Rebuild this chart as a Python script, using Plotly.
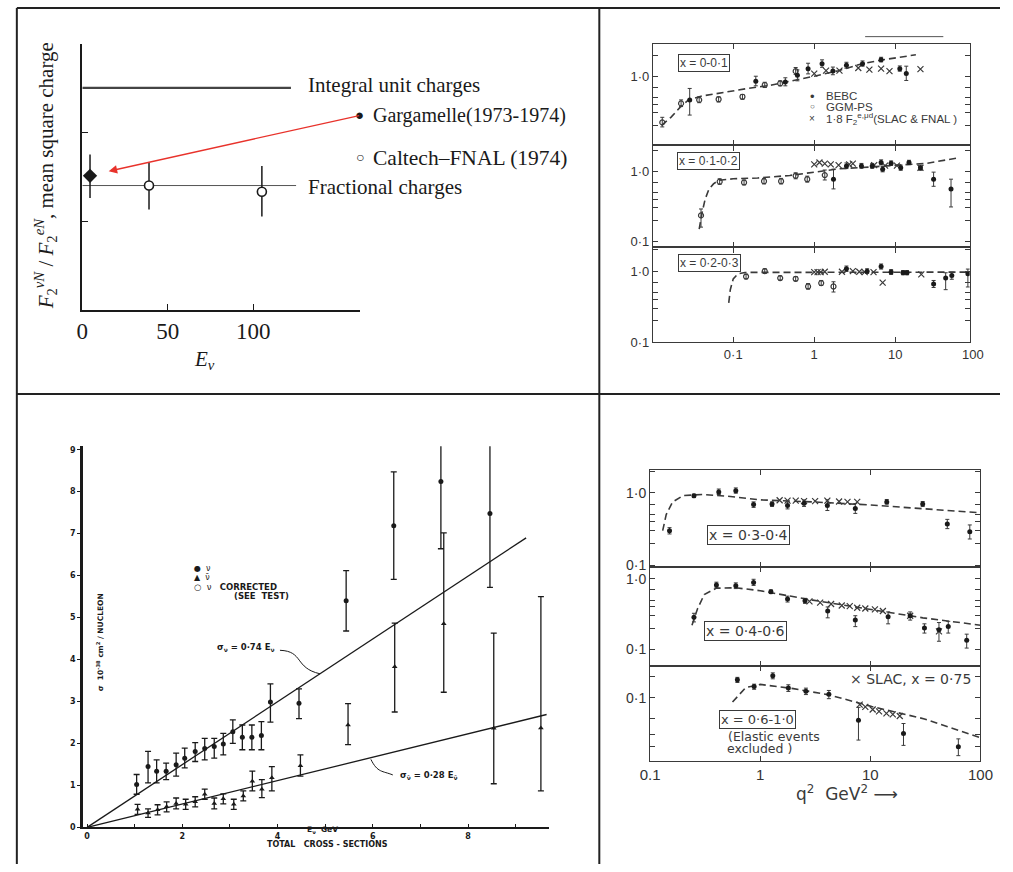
import plotly.graph_objects as go

W, H = 1013, 872
def px(x): return x / W
def py(y): return 1 - y / H

INK = "#1a1a1a"
SCAN = "#3a3a3a"
SERIF = "Liberation Serif"
SANS = "Liberation Sans"
WIDE = "DejaVu Sans"

# ================= Panel A (top-left): F2 ratio vs E_nu =================
A_garg_E = [4.5]
A_garg_R = [1.51]
A_garg_up = [0.24]
A_garg_dn = [0.25]
A_cal_E = [39, 105]
A_cal_R = [1.40, 1.33]
A_cal_up = [0.26, 0.29]
A_cal_dn = [0.27, 0.28]
A_integral_E = [0, 122]
A_integral_R = [2.5, 2.5]
A_fraction_E = [0, 125]
A_fraction_R = [1.40, 1.40]
A_xticks = [0, 50, 100]
A_yticks = [1, 2, 3]

# ================= Panel B (top-right): F2 vs q2, x bins =================
B1_bebc_x = [0.029, 0.19, 0.44, 0.62, 0.84, 1.25, 1.7, 2.5, 3.95, 6.7, 11.4, 13.7]
B1_bebc_y = [0.46, 0.85, 0.83, 1.03, 1.28, 1.51, 1.19, 1.43, 1.51, 1.72, 1.28, 1.09]
B1_bebc_up = [0.21, 0.15, 0.12, 0.20, 0.25, 0.20, 0.16, 0.15, 0.14, 0.14, 0.12, 0.30]
B1_bebc_dn = [0.18, 0.12, 0.10, 0.17, 0.20, 0.17, 0.14, 0.13, 0.12, 0.12, 0.10, 0.22]
B1_ggm_x = [0.0133, 0.0227, 0.038, 0.066, 0.13, 0.245, 0.38, 0.59]
B1_ggm_y = [0.22, 0.41, 0.46, 0.47, 0.51, 0.75, 0.79, 1.18]
B1_ggm_up = [0.04, 0.05, 0.05, 0.04, 0.04, 0.07, 0.07, 0.15]
B1_ggm_dn = [0.03, 0.04, 0.04, 0.04, 0.04, 0.06, 0.06, 0.12]
B1_slac_x = [1.0, 1.4, 2.05, 3.5, 4.8, 6.7, 8.5, 20.5]
B1_slac_y = [1.09, 1.2, 1.2, 1.31, 1.24, 1.28, 1.18, 1.26]
B1_fit_x = [0.013, 0.017, 0.022, 0.028, 0.04, 0.07, 0.14, 0.3, 0.6, 1.0, 2.0, 4.0, 8.0, 18.0]
B1_fit_y = [0.2, 0.26, 0.36, 0.46, 0.52, 0.58, 0.66, 0.75, 0.88, 1.0, 1.2, 1.52, 1.75, 2.02]

B2_bebc_x = [1.73, 2.5, 3.83, 5.2, 6.7, 7.0, 8.9, 11.7, 14.8, 20.5, 29.8, 48.9]
B2_bebc_y = [0.77, 1.19, 1.19, 1.19, 1.33, 1.07, 1.30, 1.12, 1.33, 1.12, 0.77, 0.56]
B2_bebc_up = [0.30, 0.12, 0.10, 0.10, 0.12, 0.10, 0.10, 0.10, 0.10, 0.10, 0.20, 0.21]
B2_bebc_dn = [0.21, 0.10, 0.09, 0.09, 0.10, 0.09, 0.09, 0.09, 0.09, 0.09, 0.16, 0.25]
B2_ggm_x = [0.04, 0.068, 0.136, 0.24, 0.39, 0.59, 0.82, 1.35]
B2_ggm_y = [0.235, 0.71, 0.69, 0.72, 0.72, 0.86, 0.77, 0.88]
B2_ggm_up = [0.055, 0.07, 0.06, 0.07, 0.07, 0.09, 0.08, 0.16]
B2_ggm_dn = [0.075, 0.06, 0.05, 0.06, 0.06, 0.08, 0.07, 0.13]
B2_slac_x = [1.0, 1.16, 1.35, 1.6, 2.0, 2.7, 3.0, 5.5, 7.5, 10.5, 20.5]
B2_slac_y = [1.25, 1.33, 1.28, 1.25, 1.22, 1.25, 1.28, 1.22, 1.2, 1.2, 1.12]
B2_fit_x = [0.038, 0.041, 0.045, 0.05, 0.057, 0.066, 0.1, 0.2, 0.5, 1.0, 2.0, 5.0, 10.0, 25.0, 60.0]
B2_fit_y = [0.15, 0.25, 0.4, 0.55, 0.66, 0.74, 0.78, 0.8, 0.87, 0.98, 1.08, 1.15, 1.2, 1.3, 1.55]

B3_bebc_x = [2.5, 4.5, 6.7, 8.9, 12.5, 14.0, 29.8, 42.0, 50.0, 79.0]
B3_bebc_y = [1.08, 1.0, 1.16, 0.97, 0.95, 0.95, 0.66, 0.80, 0.87, 0.92]
B3_bebc_up = [0.10, 0.08, 0.10, 0.08, 0.07, 0.07, 0.08, 0.15, 0.10, 0.15]
B3_bebc_dn = [0.09, 0.07, 0.09, 0.07, 0.06, 0.06, 0.07, 0.25, 0.10, 0.32]
B3_ggm_x = [0.144, 0.245, 0.38, 0.59, 0.84, 1.22, 1.73]
B3_ggm_y = [0.84, 1.0, 0.80, 0.78, 0.61, 0.68, 0.61]
B3_ggm_up = [0.07, 0.08, 0.06, 0.06, 0.06, 0.06, 0.10]
B3_ggm_dn = [0.06, 0.07, 0.05, 0.05, 0.05, 0.05, 0.10]
B3_slac_x = [1.0, 1.1, 1.2, 1.35, 2.2, 3.0, 3.6, 4.2, 5.4, 7.0, 21.0]
B3_slac_y = [0.97, 0.97, 0.97, 0.98, 0.98, 1.0, 0.98, 0.97, 0.97, 0.69, 0.9]
B3_fit_x = [0.088, 0.092, 0.1, 0.115, 0.14, 1.0, 10.0, 80.0]
B3_fit_y = [0.36, 0.55, 0.78, 0.92, 0.96, 0.96, 0.96, 0.97]

B_xtick_vals = [0.1, 1, 10]
B_xtick_text = ["0·1", "1", "10"]

# ================= Panel C (bottom-left): total cross sections =================
C_nu_E = [1.04, 1.28, 1.46, 1.66, 1.87, 2.05, 2.27, 2.47, 2.67, 2.86, 3.06, 3.26,
          3.46, 3.66, 3.85, 4.45, 5.44, 6.44, 7.43, 8.46]
C_nu_S = [1.02, 1.45, 1.34, 1.34, 1.49, 1.65, 1.81, 1.88, 1.93, 1.99, 2.28, 2.15,
          2.15, 2.19, 2.99, 2.96, 5.40, 7.19, 8.24, 7.48]
C_nu_up = [0.24, 0.36, 0.27, 0.19, 0.28, 0.24, 0.21, 0.24, 0.19, 0.25, 0.28, 0.29,
           0.29, 0.33, 0.43, 0.34, 0.72, 1.28, 1.51, 1.64]
C_nu_dn = [0.23, 0.39, 0.28, 0.20, 0.27, 0.23, 0.24, 0.27, 0.28, 0.26, 0.28, 0.30,
           0.30, 0.34, 0.48, 0.37, 0.72, 1.28, 1.60, 1.76]
C_nub_E = [1.06, 1.28, 1.48, 1.67, 1.87, 2.07, 2.27, 2.47, 2.67, 2.86, 3.08, 3.28,
           3.47, 3.67, 3.88, 4.48, 5.48, 6.46, 7.49, 8.54, 9.53]
C_nub_S = [0.43, 0.34, 0.42, 0.49, 0.57, 0.55, 0.61, 0.79, 0.57, 0.68, 0.55, 0.75,
           1.10, 0.91, 1.18, 1.47, 2.44, 3.83, 4.85, 2.36, 2.37]
C_nub_up = [0.12, 0.10, 0.12, 0.12, 0.13, 0.12, 0.12, 0.12, 0.13, 0.12, 0.12, 0.12,
            0.24, 0.23, 0.27, 0.26, 0.51, 1.04, 2.17, 2.27, 3.13]
C_nub_dn = [0.12, 0.10, 0.12, 0.12, 0.13, 0.12, 0.12, 0.12, 0.13, 0.12, 0.12, 0.12,
            0.23, 0.20, 0.31, 0.25, 0.47, 1.08, 1.63, 1.32, 1.50]
C_fitnu_E = [0, 9.22]
C_fitnu_S = [0, 6.90]
C_fitnub_E = [0, 9.65]
C_fitnub_S = [0, 2.69]
C_xtick_vals = [0, 1, 2, 3, 4, 5, 6, 7, 8, 9]
C_xtick_text = ["0", "", "2", "", "4", "", "6", "", "8", ""]
C_ytick_vals = [0, 1, 2, 3, 4, 5, 6, 7, 8, 9]

# ================= Panel D (bottom-right): F2 vs q2, high x =================
D1_bebc_x = [0.15, 0.25, 0.42, 0.6, 0.87, 1.28, 1.77, 2.5, 4.07, 7.3, 14.1, 29.9, 50, 80]
D1_bebc_y = [0.30, 0.91, 1.03, 1.07, 0.69, 0.70, 0.67, 0.72, 0.67, 0.61, 0.75, 0.70, 0.37, 0.29]
D1_bebc_up = [0.03, 0.05, 0.10, 0.10, 0.06, 0.05, 0.08, 0.08, 0.13, 0.10, 0.06, 0.06, 0.06, 0.07]
D1_bebc_dn = [0.03, 0.05, 0.08, 0.08, 0.06, 0.05, 0.07, 0.07, 0.10, 0.09, 0.05, 0.05, 0.05, 0.06]
D1_slac_x = [1.5, 1.77, 2.1, 2.5, 3.15, 4.07, 5.2, 6.2, 7.6]
D1_slac_y = [0.79, 0.78, 0.78, 0.77, 0.77, 0.78, 0.76, 0.75, 0.75]
D1_fit_x = [0.13, 0.14, 0.16, 0.2, 0.3, 0.5, 1.0, 3.0, 10.0, 30.0, 100.0]
D1_fit_y = [0.3, 0.5, 0.75, 0.92, 0.95, 0.9, 0.8, 0.75, 0.68, 0.6, 0.53]

D2_bebc_x = [0.25, 0.4, 0.6, 0.87, 1.25, 1.77, 2.55, 4.1, 7.3, 14.5, 23, 31, 42, 51, 75]
D2_bebc_y = [0.285, 0.82, 0.8, 0.89, 0.66, 0.52, 0.49, 0.35, 0.26, 0.29, 0.3, 0.2, 0.19, 0.21, 0.134]
D2_bebc_up = [0.04, 0.08, 0.08, 0.10, 0.04, 0.05, 0.04, 0.05, 0.04, 0.05, 0.04, 0.03, 0.05, 0.04, 0.03]
D2_bebc_dn = [0.04, 0.07, 0.07, 0.08, 0.04, 0.05, 0.04, 0.07, 0.05, 0.06, 0.04, 0.03, 0.06, 0.04, 0.03]
D2_slac_x = [2.8, 3.5, 4.4, 5.5, 6.5, 7.6, 9, 11, 13, 23, 42]
D2_slac_y = [0.48, 0.46, 0.44, 0.42, 0.41, 0.39, 0.38, 0.37, 0.35, 0.3, 0.18]
D2_fit_x = [0.24, 0.27, 0.31, 0.4, 0.6, 1.0, 3.0, 10.0, 30.0, 100.0]
D2_fit_y = [0.22, 0.38, 0.6, 0.74, 0.75, 0.68, 0.5, 0.37, 0.28, 0.22]

D3_bebc_x = [0.62, 0.88, 1.3, 1.8, 2.6, 4.2, 7.8, 20, 63]
D3_bebc_y = [0.18, 0.144, 0.206, 0.138, 0.124, 0.112, 0.048, 0.031, 0.020]
D3_bebc_up = [0.015, 0.012, 0.02, 0.015, 0.013, 0.015, 0.025, 0.012, 0.006]
D3_bebc_dn = [0.015, 0.012, 0.02, 0.015, 0.013, 0.015, 0.023, 0.010, 0.005]
D3_slac_x = [8, 9, 10.5, 12, 14, 16, 18.5]
D3_slac_y = [0.08, 0.074, 0.068, 0.064, 0.06, 0.058, 0.055]
D3_fit_x = [0.56, 0.74, 0.87, 1.0, 2.0, 4.2, 10.3, 31.0, 100.0]
D3_fit_y = [0.087, 0.14, 0.147, 0.155, 0.135, 0.11, 0.075, 0.05, 0.027]

D_xtick_vals = [0.1, 1, 10, 100]
D_xtick_text = ["0.1", "1", "10", "100"]

fig = go.Figure()

def err(up, dn, color, thick=1.0, width=2):
    return dict(type="data", array=up, arrayminus=dn, symmetric=False,
                color=color, thickness=thick, width=width)

# ---------- Panel A traces ----------
fig.add_trace(go.Scatter(x=A_integral_E, y=A_integral_R, mode="lines",
                         line=dict(color="#444", width=2.2), xaxis="x", yaxis="y"))
fig.add_trace(go.Scatter(x=A_fraction_E, y=A_fraction_R, mode="lines",
                         line=dict(color="#555", width=1), xaxis="x", yaxis="y"))
fig.add_trace(go.Scatter(x=A_cal_E, y=A_cal_R, mode="markers",
                         marker=dict(symbol="circle", size=9, color="white",
                                     line=dict(color=INK, width=1.6)),
                         error_y=err(A_cal_up, A_cal_dn, INK, 1.5, 0),
                         xaxis="x", yaxis="y"))
fig.add_trace(go.Scatter(x=A_garg_E, y=A_garg_R, mode="markers",
                         marker=dict(symbol="diamond", size=11, color=INK),
                         error_y=err(A_garg_up, A_garg_dn, INK, 1.5, 0),
                         cliponaxis=False, xaxis="x", yaxis="y"))

# ---------- Panels B and D traces ----------
def add_fpanel(xa, ya, bebc, ggm, slac, fit):
    fig.add_trace(go.Scatter(x=fit[0], y=fit[1], mode="lines",
                             line=dict(color=SCAN, width=1.6, dash="7px,4px"),
                             xaxis=xa, yaxis=ya))
    if ggm is not None:
        fig.add_trace(go.Scatter(x=ggm[0], y=ggm[1], mode="markers",
                                 marker=dict(symbol="circle-open", size=5,
                                             color=SCAN, line=dict(width=1.2)),
                                 error_y=err(ggm[2], ggm[3], SCAN, 1, 2),
                                 xaxis=xa, yaxis=ya))
    fig.add_trace(go.Scatter(x=slac[0], y=slac[1], mode="markers",
                             marker=dict(symbol="x-thin", size=6,
                                         line=dict(color=SCAN, width=1.2)),
                             xaxis=xa, yaxis=ya))
    fig.add_trace(go.Scatter(x=bebc[0], y=bebc[1], mode="markers",
                             marker=dict(symbol="circle", size=5, color=INK),
                             error_y=err(bebc[2], bebc[3], SCAN, 1, 2),
                             xaxis=xa, yaxis=ya))

add_fpanel("x2", "y2", (B1_bebc_x, B1_bebc_y, B1_bebc_up, B1_bebc_dn),
           (B1_ggm_x, B1_ggm_y, B1_ggm_up, B1_ggm_dn), (B1_slac_x, B1_slac_y),
           (B1_fit_x, B1_fit_y))
add_fpanel("x3", "y3", (B2_bebc_x, B2_bebc_y, B2_bebc_up, B2_bebc_dn),
           (B2_ggm_x, B2_ggm_y, B2_ggm_up, B2_ggm_dn), (B2_slac_x, B2_slac_y),
           (B2_fit_x, B2_fit_y))
add_fpanel("x4", "y4", (B3_bebc_x, B3_bebc_y, B3_bebc_up, B3_bebc_dn),
           (B3_ggm_x, B3_ggm_y, B3_ggm_up, B3_ggm_dn), (B3_slac_x, B3_slac_y),
           (B3_fit_x, B3_fit_y))
add_fpanel("x6", "y6", (D1_bebc_x, D1_bebc_y, D1_bebc_up, D1_bebc_dn), None,
           (D1_slac_x, D1_slac_y), (D1_fit_x, D1_fit_y))
add_fpanel("x7", "y7", (D2_bebc_x, D2_bebc_y, D2_bebc_up, D2_bebc_dn), None,
           (D2_slac_x, D2_slac_y), (D2_fit_x, D2_fit_y))
add_fpanel("x8", "y8", (D3_bebc_x, D3_bebc_y, D3_bebc_up, D3_bebc_dn), None,
           (D3_slac_x, D3_slac_y), (D3_fit_x, D3_fit_y))

# ---------- Panel C traces ----------
fig.add_trace(go.Scatter(x=C_fitnu_E, y=C_fitnu_S, mode="lines",
                         line=dict(color=INK, width=1.3), xaxis="x5", yaxis="y5"))
fig.add_trace(go.Scatter(x=C_fitnub_E, y=C_fitnub_S, mode="lines",
                         line=dict(color=INK, width=1.3), xaxis="x5", yaxis="y5"))
fig.add_trace(go.Scatter(x=C_nu_E, y=C_nu_S, mode="markers",
                         marker=dict(symbol="circle", size=5, color=INK),
                         error_y=err(C_nu_up, C_nu_dn, INK, 1.3, 3),
                         cliponaxis=False, xaxis="x5", yaxis="y5"))
fig.add_trace(go.Scatter(x=C_nub_E, y=C_nub_S, mode="markers",
                         marker=dict(symbol="triangle-up", size=5, color=INK),
                         error_y=err(C_nub_up, C_nub_dn, INK, 1.3, 3),
                         cliponaxis=False, xaxis="x5", yaxis="y5"))

# ---------- Axes ----------
def log_frame(domain, anchor, rng, **kw):
    d = dict(domain=domain, anchor=anchor, range=rng, type="log",
             showgrid=False, zeroline=False, showline=True, mirror="ticks",
             linecolor=SCAN, linewidth=1.2, ticks="inside", ticklen=5,
             tickcolor=SCAN, tickwidth=1)
    d.update(kw)
    return d

B_xdom = [px(658), px(982)]
B_xrng = [-1.99, 1.92]
D_xdom = [px(655), px(993)]
D_xrng = [-1.0, 2.0]

ytv_minor = [0.02, 0.03, 0.05, 0.1, 0.2, 0.3, 0.4, 0.5, 0.7, 1, 2]

def ytext(vals, labels):
    return [labels.get(v, "") for v in vals]

tick_font_B = dict(family=SANS, size=13, color="#333")
tick_font_D = dict(family=SANS, size=15, color="#333")
tick_font_Dy = dict(family=SANS, size=14, color="#333")
tick_font_C = dict(family=WIDE, size=8, color=INK, weight="bold")

layout = dict(
    width=W, height=H, margin=dict(l=0, r=0, t=0, b=0),
    paper_bgcolor="white", plot_bgcolor="rgba(0,0,0,0)", showlegend=False,
    # Panel A
    xaxis=dict(domain=[px(74), px(358)], anchor="y", range=[0, 162.3],
               showgrid=False, zeroline=False, showline=True, linecolor=INK,
               linewidth=1.5, ticks="inside", ticklen=6, tickcolor=INK,
               tickvals=A_xticks, ticktext=[str(v) for v in A_xticks],
               tickfont=dict(family=SERIF, size=23, color=INK)),
    yaxis=dict(domain=[py(312), py(43)], anchor="x", range=[0, 3.0],
               showgrid=False, zeroline=False, showline=True, linecolor=INK,
               linewidth=1.5, ticks="inside", ticklen=6, tickcolor=INK,
               tickvals=A_yticks, showticklabels=False),
    # Panel B
    xaxis2=log_frame(B_xdom, "y2", B_xrng, tickvals=B_xtick_vals, showticklabels=False),
    xaxis3=log_frame(B_xdom, "y3", B_xrng, tickvals=B_xtick_vals, showticklabels=False),
    xaxis4=log_frame(B_xdom, "y4", B_xrng, tickvals=B_xtick_vals,
                     ticktext=B_xtick_text, tickfont=tick_font_B),
    yaxis2=log_frame([py(146), py(43)], "x2", [-0.986, 0.465],
                     tickvals=ytv_minor, ticktext=ytext(ytv_minor, {1: "1·0"}),
                     tickfont=tick_font_B),
    yaxis3=log_frame([py(249), py(146)], "x3", [-1.085, 0.366],
                     tickvals=ytv_minor, ticktext=ytext(ytv_minor, {1: "1·0", 0.1: "0·1"}),
                     tickfont=tick_font_B),
    yaxis4=log_frame([py(345), py(249)], "x4", [-1.0, 0.333],
                     tickvals=ytv_minor, ticktext=ytext(ytv_minor, {1: "1·0", 0.1: "0·1"}),
                     tickfont=tick_font_B),
    # Panel C
    xaxis5=dict(domain=[px(75), px(552)], anchor="y5", range=[-0.08, 9.71],
                showgrid=False, zeroline=False, showline=True, linecolor=INK,
                linewidth=2, ticks="inside", ticklen=3, tickcolor=INK,
                tickvals=C_xtick_vals, ticktext=C_xtick_text, tickfont=tick_font_C),
    yaxis5=dict(domain=[py(835), py(450)], anchor="x5", range=[0, 9.08],
                showgrid=False, zeroline=False, showline=True, linecolor=INK,
                linewidth=3, ticks="outside", ticklen=3, tickcolor=INK,
                tickvals=C_ytick_vals, tickfont=tick_font_C),
    # Panel D
    xaxis6=log_frame(D_xdom, "y6", D_xrng, tickvals=D_xtick_vals, showticklabels=False),
    xaxis7=log_frame(D_xdom, "y7", D_xrng, tickvals=D_xtick_vals, showticklabels=False),
    xaxis8=log_frame(D_xdom, "y8", D_xrng, tickvals=D_xtick_vals,
                     ticktext=D_xtick_text, tickfont=tick_font_D),
    yaxis6=log_frame([py(572), py(474)], "x6", [-1.027, 0.315],
                     tickvals=ytv_minor, ticktext=ytext(ytv_minor, {1: "1·0", 0.1: "0·1"}),
                     tickfont=tick_font_Dy),
    yaxis7=log_frame([py(672), py(572)], "x7", [-1.239, 0.169],
                     tickvals=ytv_minor, ticktext=ytext(ytv_minor, {1: "1·0", 0.1: "0·1"}),
                     tickfont=tick_font_Dy),
    yaxis8=log_frame([py(768), py(672)], "x8", [-1.901, -0.549],
                     tickvals=ytv_minor, ticktext=ytext(ytv_minor, {0.1: "0·1"}),
                     tickfont=tick_font_Dy),
)
fig.update_layout(**layout)

# ---------- Frame lines ----------
shapes = []
def pline(x0, y0, x1, y1, w=2, c="#222"):
    shapes.append(dict(type="line", xref="paper", yref="paper",
                       x0=px(x0), y0=py(y0), x1=px(x1), y1=py(y1),
                       line=dict(color=c, width=w)))
pline(7, 7, 1013, 7)
pline(7, 7, 7, 872)
pline(603, 7, 603, 872)
pline(7, 397, 1013, 397)
pline(875, 36, 955, 36, 1, "#555")

# connectors in panel C (curly leaders from labels to lines)
shapes.append(dict(type="path", xref="x5", yref="y5",
                   path="M 4.05,4.22 C 4.55,4.2 4.35,3.8 4.89,3.66",
                   line=dict(color=INK, width=1)))
shapes.append(dict(type="path", xref="x5", yref="y5",
                   path="M 5.96,1.62 C 6.1,1.3 6.2,1.35 6.42,1.25",
                   line=dict(color=INK, width=1)))
fig.update_layout(shapes=shapes)

# ---------- Annotations ----------
anns = []
def ann(text, x, y, size, family=SANS, color=INK, xanchor="center",
        yanchor="middle", box=False, angle=0, **kw):
    d = dict(text=text, x=px(x), y=py(y), xref="paper", yref="paper",
             showarrow=False, xanchor=xanchor, yanchor=yanchor, textangle=angle,
             font=dict(family=family, size=size, color=color))
    if box:
        d.update(bordercolor=SCAN, borderwidth=1, borderpad=1)
    d.update(kw)
    anns.append(d)

# Panel A text
ann("Integral unit charges", 303, 85, 21, SERIF, xanchor="left")
ann("●", 358, 115, 15, SERIF)
ann("Gargamelle(1973-1974)", 369, 116, 20, SERIF, xanchor="left")
ann("○", 358, 158, 14, SERIF)
ann("Caltech–FNAL (1974)", 369, 159, 21.5, SERIF, xanchor="left")
ann("Fractional charges", 303, 188, 21, SERIF, xanchor="left")
ann("<i>F</i><sub>2</sub><sup><i>νN</i></sup> / <i>F</i><sub>2</sub><sup><i>eN</i></sup>, mean square charge",
    36, 177, 21, SERIF, angle=-90)
ann("<i>E</i><sub><i>ν</i></sub>", 199, 363, 21, SERIF)
anns.append(dict(text="", x=px(101), y=py(172), xref="paper", yref="paper",
                 ax=353 - 101, ay=116 - 172, axref="pixel", ayref="pixel",
                 showarrow=True, arrowhead=2, arrowsize=1.3, arrowwidth=1.3,
                 arrowcolor="#e8322b"))

# Panel B text
ann("x = 0-0·1", 710, 63, 12, box=True, color=SCAN)
ann("x = 0·1-0·2", 715, 162, 12, box=True, color=SCAN)
ann("x = 0·2-0·3", 716, 265, 12, box=True, color=SCAN)
ann("•", 821, 96, 13, color=SCAN)
ann("BEBC", 833, 96, 11.5, color=SCAN, xanchor="left")
ann("○", 821, 107, 8, color=SCAN)
ann("GGM-PS", 833, 107, 11.5, color=SCAN, xanchor="left")
ann("×", 821, 119, 10, color=SCAN)
ann("1·8 F<sub>2</sub><sup>e,μd</sup>(SLAC & FNAL )", 833, 119, 11.5, color=SCAN,
    xanchor="left")
ann("100", 985, 357, 13, color="#333")

# Panel C text
ann("●  ν", 186, 573, 8, WIDE, color=INK, xanchor="left")
ann("▲  ν̄", 186, 583, 8, WIDE, color=INK, xanchor="left")
ann("○  ν   <b>CORRECTED</b>", 186, 592, 8.5, WIDE, color=INK, xanchor="left")
ann("<b>(SEE  TEST)</b>", 227, 601, 8.5, WIDE, color=INK, xanchor="left")
ann("<b>σ  10<sup>-38</sup> cm<sup>2</sup> / NUCLEON</b>", 92, 648, 7.5, WIDE, angle=-90)
ann("<b>σ<sub>ν</sub> = 0·74 E<sub>ν</sub></b>", 241, 653, 8.5, WIDE)
ann("<b>σ<sub>ν̄</sub> = 0·28 E<sub>ν̄</sub></b>", 429, 783, 8.5, WIDE)
ann("<b>E<sub>ν</sub>  GeV</b>", 320, 838, 7.5, WIDE)
ann("<b>TOTAL   CROSS - SECTIONS</b>", 325, 852, 8, WIDE)

# Panel D text
ann("x = 0·3-0·4", 756, 540, 14, WIDE, box=True, color=SCAN)
ann("x = 0·4-0·6", 753, 637, 14, WIDE, box=True, color=SCAN)
ann("× SLAC, x = 0·75", 857, 685, 14, WIDE, color=SCAN, xanchor="left")
ann("x = 0·6-1·0", 765, 726, 13, WIDE, box=True, color=SCAN)
ann("(Elastic events", 782, 743, 12.5, WIDE, color=SCAN)
ann("excluded )", 767, 755, 12.5, WIDE, color=SCAN)
ann("q<sup>2</sup>  GeV<sup>2</sup> ⟶", 856, 800, 17, WIDE, color=SCAN)

fig.update_layout(annotations=anns)

fig.write_html("out.html")
